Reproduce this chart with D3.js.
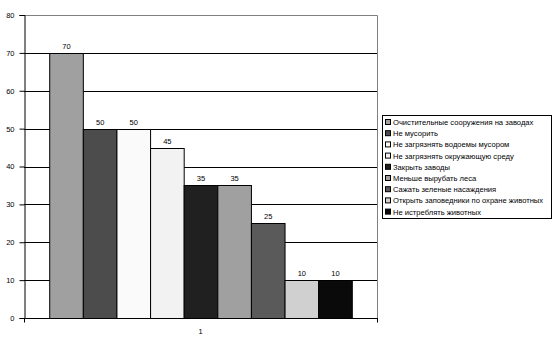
<!DOCTYPE html>
<html><head><meta charset="utf-8">
<script src="https://cdn.jsdelivr.net/npm/d3@7"></script>
<style>body{margin:0;background:#fff}svg{display:block}text{font-family:"Liberation Sans",Arial,sans-serif}</style>
</head><body>
<svg id="c" width="554" height="345"></svg>
<script>
const categories = ["1"];
const seriesNames = [
  "Очистительные сооружения на заводах",
  "Не мусорить",
  "Не загрязнять водоемы мусором",
  "Не загрязнять окружающую среду",
  "Закрыть заводы",
  "Меньше вырубать леса",
  "Сажать зеленые насаждения",
  "Открыть заповедники по охране животных",
  "Не истреблять животных"
];
const seriesValues = [70, 50, 50, 45, 35, 35, 25, 10, 10];
const seriesColors = ["#a0a0a0","#4c4c4c","#fafafa","#f2f2f2","#202020","#a0a0a0","#5a5a5a","#d0d0d0","#0a0a0a"];
const yTicks = [0,10,20,30,40,50,60,70,80];

const svg = d3.select("#c");
const L = 24, R = 377, T = 15, B = 318;
const y = d3.scaleLinear().domain([0,80]).range([B,T]);
const x0 = d3.scaleBand().domain(categories).range([L,R]).paddingInner(0).paddingOuter(0);
const gw = x0.bandwidth();
const barW = gw / (seriesNames.length + 1.5);
const x1 = d3.scaleBand().domain(seriesNames)
  .range([x0("1") + barW*0.75, x0("1") + gw - barW*0.75]).padding(0);

svg.append("g").selectAll("line").data(yTicks.filter(d=>d>0 && d<80)).join("line")
  .attr("x1",L).attr("x2",R).attr("y1",d=>Math.round(y(d))+0.5).attr("y2",d=>Math.round(y(d))+0.5)
  .attr("stroke","#000").attr("stroke-width",1);
svg.append("path").attr("d",`M${L},${T+0.5}H${R+0.5}V${B}`).attr("fill","none").attr("stroke","#808080");

svg.append("g").selectAll("rect").data(seriesValues).join("rect")
  .attr("x",(d,i)=>x1(seriesNames[i])+0.5)
  .attr("y",d=>Math.round(y(d))+0.5)
  .attr("width",x1.bandwidth())
  .attr("height",d=>B-Math.round(y(d)))
  .attr("fill",(d,i)=>seriesColors[i]).attr("stroke","#000").attr("stroke-width",1);

svg.append("g").selectAll("text").data(seriesValues).join("text")
  .attr("x",(d,i)=>x1(seriesNames[i])+x1.bandwidth()/2+0.5)
  .attr("y",d=>y(d)-4)
  .attr("text-anchor","middle").attr("font-size",7.5).attr("fill","#000")
  .text(d=>d);

const yAxis = d3.axisLeft(y).tickValues(yTicks).tickSize(5).tickPadding(5);
const gy = svg.append("g").attr("transform",`translate(${L+0.5},0)`).call(yAxis);
gy.select(".domain").attr("stroke","#000");
gy.selectAll(".tick line").attr("stroke","#000");
gy.selectAll(".tick text").attr("font-size",7.5).attr("font-family","Liberation Sans, Arial, sans-serif").attr("fill","#000");

const gx = svg.append("g").attr("transform",`translate(0,${B+0.5})`);
gx.append("line").attr("x1",L).attr("x2",R+1).attr("stroke","#000");
gx.selectAll("line.t").data([L+0.5,R+0.5]).join("line").attr("class","t")
  .attr("x1",d=>d).attr("x2",d=>d).attr("y1",0).attr("y2",4).attr("stroke","#000");
gx.selectAll("text").data(categories).join("text")
  .attr("x",d=>x0(d)+gw/2).attr("y",15).attr("text-anchor","middle")
  .attr("font-size",7.5).text(d=>d);

const lg = svg.append("g");
const lx = 382, ly = 115, lw = 169, lh = 103;
lg.append("rect").attr("x",lx+0.5).attr("y",ly+0.5).attr("width",lw).attr("height",lh)
  .attr("fill","#fff").attr("stroke","#000");
const step = 11.2;
const items = lg.selectAll("g").data(seriesNames).join("g")
  .attr("transform",(d,i)=>`translate(${lx+3},${ly+7+i*step})`);
items.append("rect").attr("x",0.5).attr("y",-2.5).attr("width",5).attr("height",5)
  .attr("fill",(d,i)=>seriesColors[i]).attr("stroke","#000");
items.append("text").attr("x",8).attr("y",3).attr("font-size",7.6).text(d=>d)
  .each(function(){
    const w = this.getComputedTextLength();
    if (w > 155) d3.select(this).attr("textLength",155).attr("lengthAdjust","spacingAndGlyphs");
  });
</script>
</body></html>
